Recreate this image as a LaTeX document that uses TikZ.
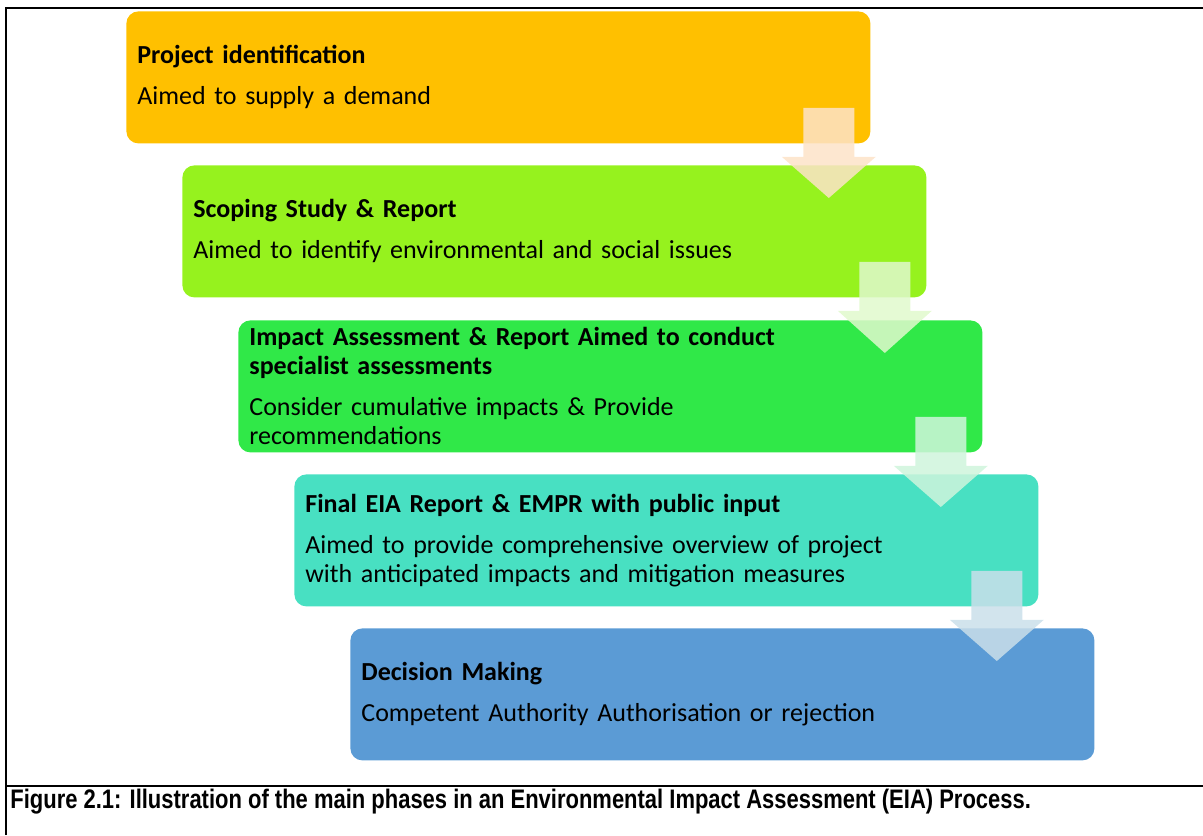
\documentclass[tikz,border=0pt]{standalone}
\usepackage{fontspec}
\setmainfont{Carlito}
\newfontfamily\captionfont[FakeStretch=0.82]{Liberation Sans}
\usetikzlibrary{calc}
\usepackage{xcolor}
\definecolor{phaseA}{HTML}{FFC000}
\definecolor{phaseB}{HTML}{96F21E}
\definecolor{phaseC}{HTML}{30E848}
\definecolor{phaseD}{HTML}{48E0C2}
\definecolor{phaseE}{HTML}{5B9BD5}
\definecolor{tintA}{HTML}{FDE3C8}
\definecolor{tintB}{HTML}{E0F9CC}
\definecolor{tintC}{HTML}{CFF5DC}
\definecolor{tintD}{HTML}{CADFEA}
\tikzset{phase/.style={anchor=north west, rounded corners=6pt, minimum height=66pt, inner xsep=5.5pt, text width=361pt, align=left, font=\fontsize{13}{14.5}\selectfont}}
\tikzset{frameline/.style={line width=1pt}}
%block arrow from one phase to the next
\newcommand{\phasearrow}[3]{%
	\fill[#3, opacity=.85] ($(#1.south east)+(-67.5,-36)$) -- ($(#1.south east)+(-16.5,-36)$) -- ($(#1.south east)+(-16.5,13)$) -- ($(#1.south east)+(5,13)$) -- ($(#1.south east |- #2.north)+(-42,33)$) -- ($(#1.south east)+(-89,13)$) -- ($(#1.south east)+(-67.5,13)$) -- cycle;}

\begin{document}
\begin{tikzpicture}[x=0.5pt, y=-0.5pt]
	\useasboundingbox (0,0) rectangle (1203,835);
	%cornice
	\draw[frameline] (6,835) -- (6,8) -- (1203,8);
	\draw[frameline] (6,786) -- (1203,786);
	%fasi
	\node[phase, fill=phaseA] (ident) at (126,11) {\textbf{Project identification}\\[6pt]Aimed to supply a demand};
	\node[phase, fill=phaseB] (scoping) at (182,165) {\textbf{Scoping Study \& Report}\\[6pt]Aimed to identify environmental and social issues};
	\node[phase, fill=phaseC] (impact) at (238,320) {\textbf{Impact Assessment \& Report Aimed to conduct}\\\textbf{specialist assessments}\\[6pt]Consider cumulative impacts \& Provide\\recommendations};
	\node[phase, fill=phaseD] (final) at (294,474) {\textbf{Final EIA Report \& EMPR with public input}\\[6pt]Aimed to provide comprehensive overview of project\\with anticipated impacts and mitigation measures};
	\node[phase, fill=phaseE] (decision) at (350,628) {\textbf{Decision Making}\\[6pt]Competent Authority Authorisation or rejection};
	%frecce
	\phasearrow{ident}{scoping}{tintA}
	\phasearrow{scoping}{impact}{tintB}
	\phasearrow{impact}{final}{tintC}
	\phasearrow{final}{decision}{tintD}
	%didascalia
	\node[anchor=base west, inner sep=0pt, font=\captionfont\bfseries\fontsize{13.4}{15}\selectfont] (caption) at (10,808) {Figure 2.1: Illustration of the main phases in an Environmental Impact Assessment (EIA) Process.};
\end{tikzpicture}
\end{document}
